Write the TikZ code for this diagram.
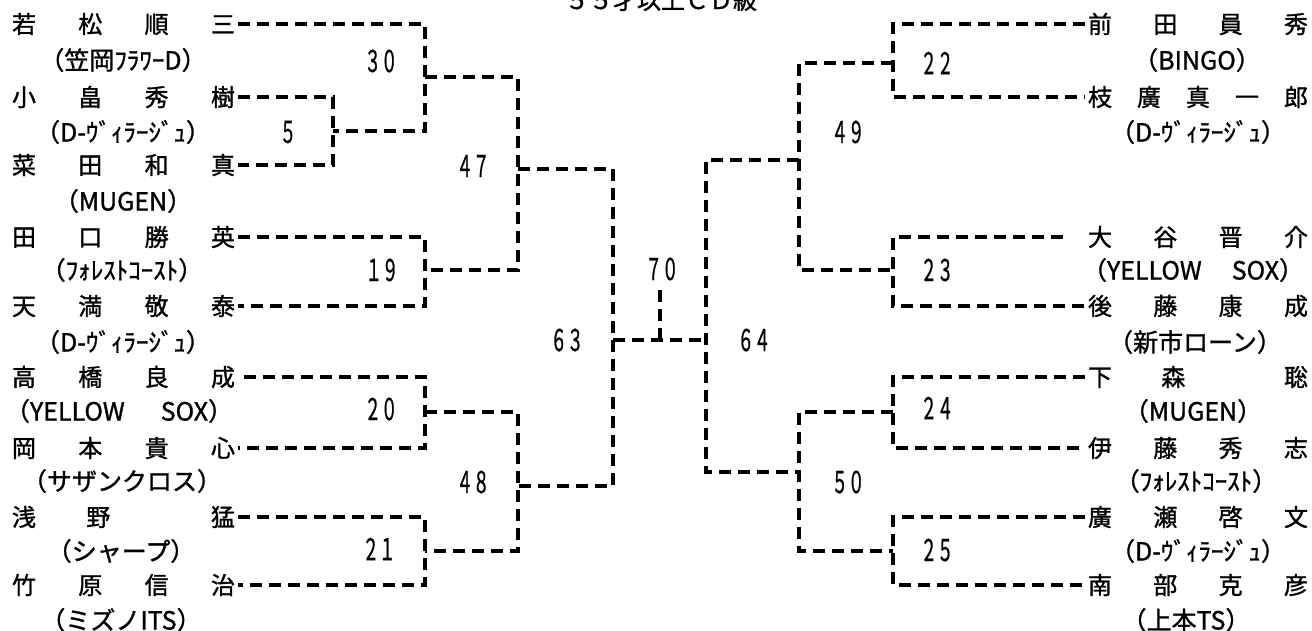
\documentclass[tikz,border=0pt]{standalone}
\usepackage{fontspec}
\setmainfont{Noto Sans CJK JP}[FakeBold=1.2]
\newfontfamily\numfont[FakeStretch=0.55,FakeBold=0.8]{Noto Sans CJK JP}
\newcommand\Lnm[1]{\makebox[223pt][s]{#1}}
\newcommand\Rnm[1]{\makebox[220pt][s]{#1}}
\begin{document}
\begin{tikzpicture}[x=1pt,y=-1pt,
  dl/.style={line width=3.2pt, dash pattern=on 12pt off 7pt},
  pname/.style={inner sep=0pt, outer sep=3pt, anchor=west, font=\fontsize{24pt}{28pt}\selectfont},
  team/.style={inner sep=0pt, font=\fontsize{25pt}{29pt}\selectfont},
  num/.style={inner sep=0pt, font=\numfont\fontsize{30pt}{34pt}\selectfont},
  ttl/.style={inner sep=0pt, anchor=base, font=\fontsize{24pt}{28pt}\selectfont},
]
\path[use as bounding box] (0,0) rectangle (1312,630);

\node[ttl] (title) at (661,9) {５５才以上ＣＤ級};

% left players
\node[pname] (L1) at (9,24)  {\Lnm{若\hfill 松\hfill 順\hfill 三}};
\node[team]  (T1) at (123,60) {（笠岡ﾌﾗﾜｰD）};
\node[pname] (L2) at (9,97)  {\Lnm{小\hfill 畠\hfill 秀\hfill 樹}};
\node[team]  (T2) at (123,132) {（D-ｳﾞｨﾗｰｼﾞｭ）};
\node[pname] (L3) at (9,165) {\Lnm{菜\hfill 田\hfill 和\hfill 真}};
\node[team]  (T3) at (123,201) {（MUGEN）};
\node[pname] (L4) at (9,237) {\Lnm{田\hfill 口\hfill 勝\hfill 英}};
\node[team]  (T4) at (122,270) {（ﾌｫﾚｽﾄｺｰｽﾄ）};
\node[pname] (L5) at (9,306) {\Lnm{天\hfill 満\hfill 敬\hfill 泰}};
\node[team]  (T5) at (123,342) {（D-ｳﾞｨﾗｰｼﾞｭ）};
\node[pname] (L6) at (9,377) {\Lnm{高\hfill 橋\hfill 良\hfill 成}};
\node[team]  (T6) at (119,411) {（YELLOW\hspace{36pt}SOX）};
\node[pname] (L7) at (9,448) {\Lnm{岡\hfill 本\hfill 貴\hfill 心}};
\node[team]  (T7) at (122,481) {（サザンクロス）};
\node[pname] (L8) at (9,517) {\Lnm{浅\hfill 野\hfill\hfill 猛}};
\node[team]  (T8) at (121,551) {（シャープ）};
\node[pname] (L9) at (9,585) {\Lnm{竹\hfill 原\hfill 信\hfill 治}};
\node[team]  (T9) at (121,620) {（ミズノITS）};

% right players
\node[pname] (R1) at (1085,24)  {\Rnm{前\hfill 田\hfill 員\hfill 秀}};
\node[team]  (U1) at (1197,60)  {（BINGO）};
\node[pname] (R2) at (1085,97)  {\Rnm{枝\hfill 廣\hfill 真\hfill 一\hfill 郎}};
\node[team]  (U2) at (1198,132) {（D-ｳﾞｨﾗｰｼﾞｭ）};
\node[pname] (R3) at (1085,237) {\Rnm{大\hfill 谷\hfill 晋\hfill 介}};
\node[team]  (U3) at (1193,270) {（YELLOW\hspace{30pt}SOX）};
\node[pname] (R4) at (1085,306) {\Rnm{後\hfill 藤\hfill 康\hfill 成}};
\node[team]  (U4) at (1195,342) {（新市ローン）};
\node[pname] (R5) at (1085,377) {\Rnm{下\hfill 森\hfill\hfill 聡}};
\node[team]  (U5) at (1193,411) {（MUGEN）};
\node[pname] (R6) at (1085,448) {\Rnm{伊\hfill 藤\hfill 秀\hfill 志}};
\node[team]  (U6) at (1196,481) {（ﾌｫﾚｽﾄｺｰｽﾄ）};
\node[pname] (R7) at (1085,517) {\Rnm{廣\hfill 瀬\hfill 啓\hfill 文}};
\node[team]  (U7) at (1198,551) {（D-ｳﾞｨﾗｰｼﾞｭ）};
\node[pname] (R8) at (1085,585) {\Rnm{南\hfill 部\hfill 克\hfill 彦}};
\node[team]  (U8) at (1186,620) {（上本TS）};

% junctions
\coordinate (j5)  at (333,131);
\coordinate (j30) at (425,77);
\coordinate (j19) at (425,270);
\coordinate (j20) at (425,412);
\coordinate (j21) at (425,551);
\coordinate (j47) at (518,169);
\coordinate (j48) at (518,486);
\coordinate (j63) at (613,340);
\coordinate (j70) at (660,340);
\coordinate (t70) at (660,290);
\coordinate (j64) at (706,340);
\coordinate (j49) at (799,160);
\coordinate (j50) at (799,472);
\coordinate (j22) at (893,63);
\coordinate (j23) at (893,270);
\coordinate (j24) at (893,412);
\coordinate (j25) at (893,551);

% left bracket lines
\draw[dl] (L2.east) -| (j5) |- (L3.east);
\draw[dl] (L1.east) -| (j30) -- (j5 -| j30) -- (j5);
\draw[dl] (L4.east) -| (j19) |- (L5.east);
\draw[dl] (j30) -| (j47) |- (j19);
\draw[dl, shorten <=6pt] (L6.east) -| (j20) |- (L7.east);
\draw[dl] (L8.east) -| (j21) |- (L9.east);
\draw[dl] (j20) -| (j48) |- (j21);
\draw[dl] (j47) -| (j63) |- (j48);
% final
\draw[dl] (j63) -- (j64);
\draw[dl] (t70) -- (j70);
% right bracket lines
\draw[dl] (j49) -| (j64) |- (j50);
\draw[dl] (j22) -| (j49) |- (j23);
\draw[dl] (j24) -| (j50) |- (j25);
\draw[dl] (R1.west) -| (j22) |- (R2.west);
\draw[dl, shorten <=22pt] (R3.west) -| (j23) |- (R4.west);
\draw[dl] (R5.west) -| (j24) |- (R6.west);
\draw[dl] (R7.west) -| (j25) |- (R8.west);

% match numbers
\node[num] (n30) at (381,61)  {３０};
\node[num] (n5)  at (288,132) {５};
\node[num] (n19) at (382,270) {１９};
\node[num] (n20) at (381,409) {２０};
\node[num] (n21) at (379,549) {２１};
\node[num] (n47) at (473,166) {４７};
\node[num] (n48) at (473,482) {４８};
\node[num] (n63) at (567,340) {６３};
\node[num] (n70) at (662,269) {７０};
\node[num] (n64) at (754,340) {６４};
\node[num] (n49) at (848,132) {４９};
\node[num] (n50) at (848,482) {５０};
\node[num] (n22) at (937,63)  {２２};
\node[num] (n23) at (937,270) {２３};
\node[num] (n24) at (937,408) {２４};
\node[num] (n25) at (937,550) {２５};
\end{tikzpicture}
\end{document}
